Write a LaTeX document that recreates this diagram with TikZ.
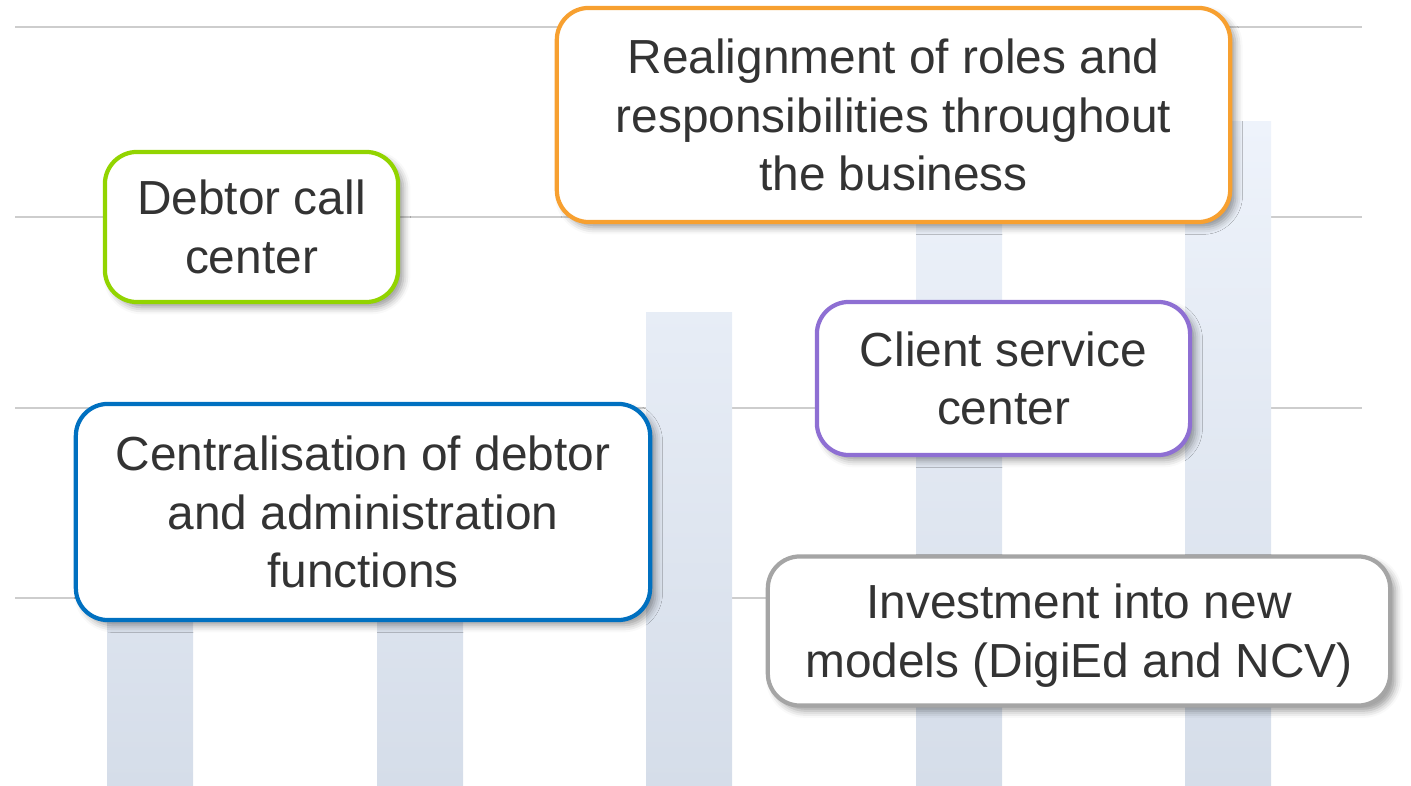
\documentclass[tikz,border=0pt]{standalone}
\usepackage{fontspec}
\setmainfont{Liberation Sans}
\usetikzlibrary{shadows.blur}

\definecolor{gridgray}{HTML}{CDCDCD}
\definecolor{barlight}{HTML}{EEF3FB}
\definecolor{bardark}{HTML}{D5DDE9}
\definecolor{txtgray}{HTML}{333333}
\definecolor{cgreen}{HTML}{92D400}
\definecolor{corange}{HTML}{F7A030}
\definecolor{cpurple}{HTML}{8E6FD3}
\definecolor{cblue}{HTML}{0070C0}
\definecolor{cgray}{HTML}{A5A5A5}

\tikzset{
    note/.style={draw=#1, line width=1.2pt, fill=white, rounded corners=0.32cm,
        align=center, text=txtgray, inner sep=0pt,
        font=\fontsize{13.6}{16.7}\selectfont,
        blur shadow={shadow xshift=1.5pt, shadow yshift=-1.5pt,
            shadow blur radius=2pt, shadow opacity=40}},
}

\begin{document}
\begin{tikzpicture}[x=0.01cm, y=-0.01cm]
    \useasboundingbox (0,0) rectangle (1411,786);
    \foreach \y in {27,217,408,598}
        \draw[gridgray, line width=0.6pt] (15,\y) -- (1362,\y);
    \foreach \x/\t in {107/500,377/450,646/313,916/190,1185/122} {
        \pgfmathtruncatemacro\p{(\t-122)/6.64}
        \shade[top color=bardark!\p!barlight, bottom color=bardark] (\x,\t) rectangle (\x+86,786);
    }
    \node[note=cgreen, minimum width=2.93cm, minimum height=1.50cm] (call) at (251.5,227) {Debtor call\\center};
    \node[note=corange, minimum width=6.73cm, minimum height=2.14cm] (roles) at (893.5,115) {Realignment of roles and\\responsibilities throughout\\the business};
    \node[note=cpurple, minimum width=3.73cm, minimum height=1.53cm] (client) at (1003.5,378.5) {Client service\\center};
    \node[note=cblue, minimum width=5.74cm, minimum height=2.16cm] (central) at (363,512) {Centralisation of debtor\\and administration\\functions};
    \node[note=cgray, minimum width=6.22cm, minimum height=1.49cm, text depth=0pt] (invest) at (1079,631) {Investment into new\\models (DigiEd and NCV)};
\end{tikzpicture}
\end{document}
